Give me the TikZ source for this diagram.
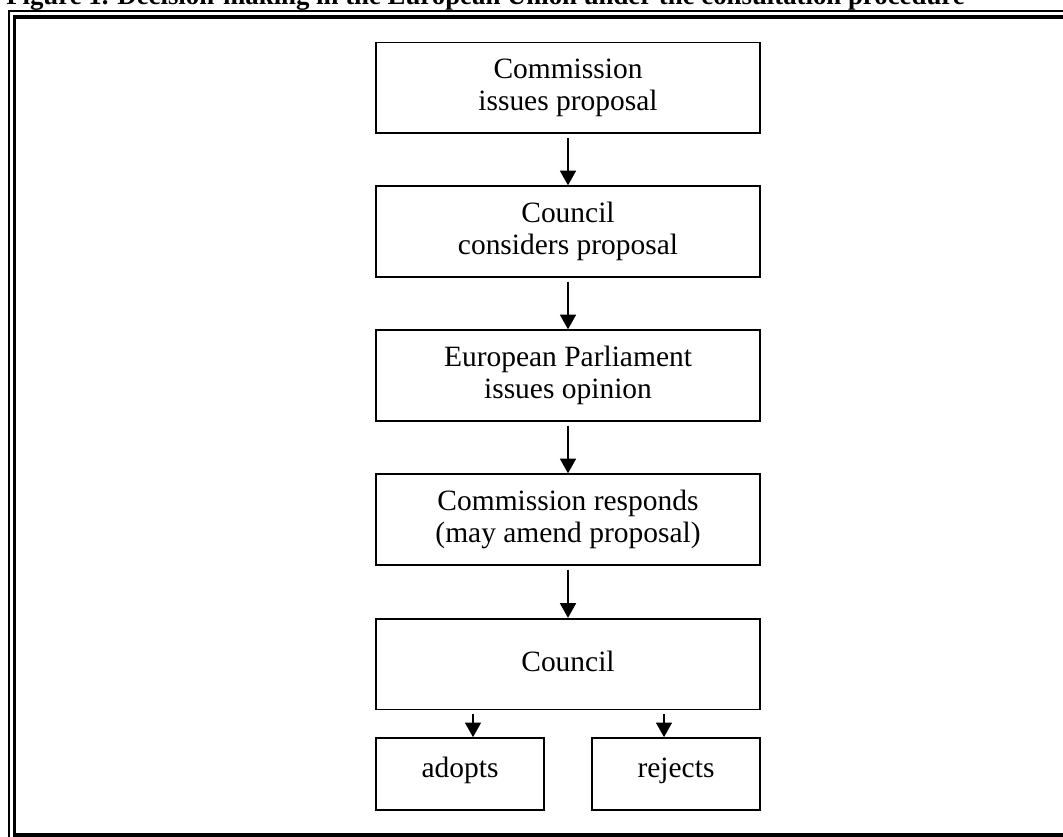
\documentclass[tikz,border=0pt]{standalone}
\usepackage{fontspec}
\setmainfont{Liberation Serif}
\usetikzlibrary{arrows.meta,calc}
\begin{document}
\begin{tikzpicture}[x=0.75pt,y=-0.75pt,
  box/.style={draw, line width=1.25pt, minimum width=288pt, minimum height=68pt,
    align=center, inner sep=0pt, font=\fontsize{22.1}{24}\selectfont},
  small/.style={draw, line width=1.25pt, minimum width=126pt, minimum height=54pt,
    align=center, inner sep=0pt, text height=13pt, text depth=8.5pt,
    font=\fontsize{22.1}{24}\selectfont},
  arr/.style={line width=1.25pt, -{Triangle[length=11pt,width=12pt]}, shorten <=3pt}]
\useasboundingbox (0,0) rectangle (1063,837);
\clip (0,0) rectangle (1063,837);
\fill[white] (0,0) rectangle (1063,837);
% frame
\draw[line width=1.5pt] (9,11.5) rectangle (1080,845);
\draw[line width=2.3pt] (14.5,17) rectangle (1072,835);
% title
\node[anchor=base west, inner sep=0pt, font=\bfseries\fontsize{20.1}{24}\selectfont] (title) at (6,5)
  {Figure 1. Decision-making in the European Union under the consultation procedure};
% boxes
\node[box] (b1) at (568,88) {Commission\\issues proposal};
\node[box] (b2) at (568,231.5) {Council\\considers proposal};
\node[box] (b3) at (568,375.5) {European Parliament\\issues opinion};
\node[box] (b4) at (568,519.5) {Commission responds\\(may amend proposal)};
\node[box, text height=13pt, text depth=2pt] (c) at (568,664) {Council};
\node[small] (ad) at (460,774) {adopts};
\node[small] (rj) at (676,774) {rejects};
% arrows
\draw[arr] (b1) -- (b2);
\draw[arr] (b2) -- (b3);
\draw[arr] (b3) -- (b4);
\draw[arr] (b4) -- (c);
\coordinate (adin) at ($(ad.north)+(13,0)$);
\coordinate (rjin) at ($(rj.north)+(-12,0)$);
\draw[arr] (c.south -| adin) -- (adin);
\draw[arr] (c.south -| rjin) -- (rjin);
\end{tikzpicture}
\end{document}
